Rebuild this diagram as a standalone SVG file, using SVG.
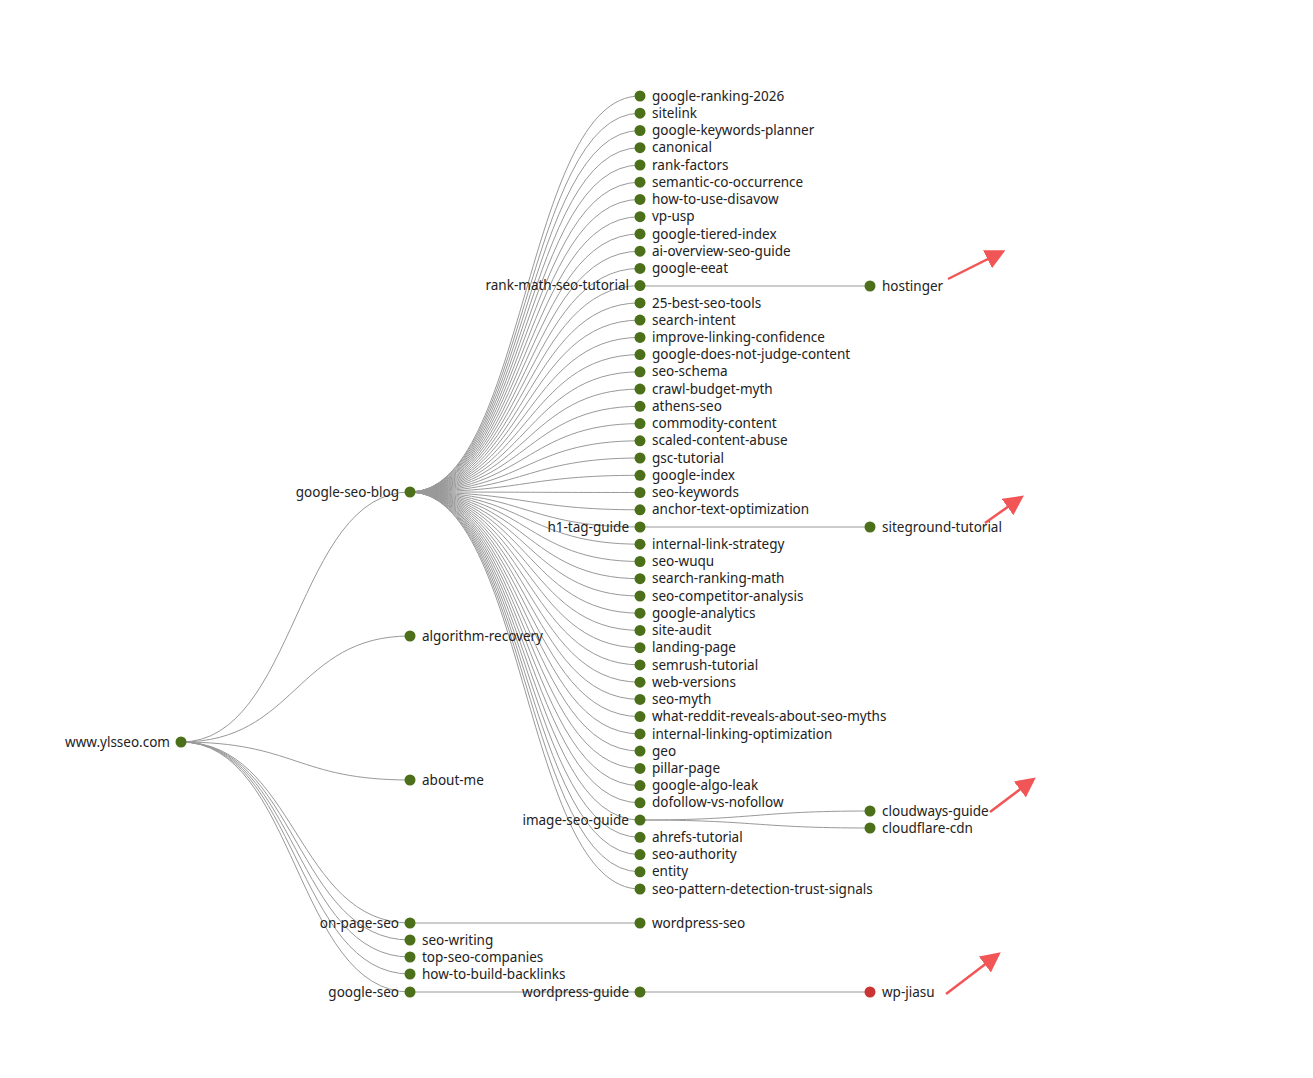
<svg xmlns="http://www.w3.org/2000/svg" width="1313" height="1078" viewBox="0 0 1313 1078">
<style>
.l{fill:none;stroke:#999;stroke-width:1}
circle{fill:#4b7019;r:5.5}
circle.r{fill:#cc3333}
text{font-family:"Noto Sans","DejaVu Sans",sans-serif;font-size:13.5px;fill:#222;dominant-baseline:middle;transform:translate(0px,1px)}
.e{text-anchor:end}
.a{stroke:#f25555;stroke-width:2.5;fill:none}
</style>
<defs><marker id="ah" viewBox="0 0 10 10" refX="7" refY="5" markerWidth="8" markerHeight="8" orient="auto"><path d="M0,0L10,5L0,10z" fill="#f25555"/></marker></defs>
<rect width="1313" height="1078" fill="#fff"/>
<g id="connectors">
<path class="l" d="M181,742C296,742 296,492 410,492"/>
<path class="l" d="M181,742C296,742 296,636 410,636"/>
<path class="l" d="M181,742C296,742 296,780 410,780"/>
<path class="l" d="M181,742C296,742 296,923 410,923"/>
<path class="l" d="M181,742C296,742 296,940 410,940"/>
<path class="l" d="M181,742C296,742 296,957 410,957"/>
<path class="l" d="M181,742C296,742 296,974 410,974"/>
<path class="l" d="M181,742C296,742 296,992 410,992"/>
<path class="l" d="M410,923L640,923"/>
<path class="l" d="M410,992L640,992"/>
<path class="l" d="M640,992L870,992"/>
<path class="l" d="M640,286L870,286"/>
<path class="l" d="M640,527L870,527"/>
<path class="l" d="M640,820C755,820 755,811 870,811"/>
<path class="l" d="M640,820C755,820 755,828 870,828"/>
<path class="l" d="M410,492C525,492 525,96 640,96"/><path class="l" d="M410,492C525,492 525,113.2 640,113.2"/><path class="l" d="M410,492C525,492 525,130.5 640,130.5"/><path class="l" d="M410,492C525,492 525,147.7 640,147.7"/><path class="l" d="M410,492C525,492 525,165 640,165"/><path class="l" d="M410,492C525,492 525,182.2 640,182.2"/><path class="l" d="M410,492C525,492 525,199.4 640,199.4"/><path class="l" d="M410,492C525,492 525,216.7 640,216.7"/><path class="l" d="M410,492C525,492 525,233.9 640,233.9"/><path class="l" d="M410,492C525,492 525,251.2 640,251.2"/><path class="l" d="M410,492C525,492 525,268.4 640,268.4"/><path class="l" d="M410,492C525,492 525,285.6 640,285.6"/><path class="l" d="M410,492C525,492 525,302.9 640,302.9"/><path class="l" d="M410,492C525,492 525,320.1 640,320.1"/><path class="l" d="M410,492C525,492 525,337.4 640,337.4"/><path class="l" d="M410,492C525,492 525,354.6 640,354.6"/><path class="l" d="M410,492C525,492 525,371.8 640,371.8"/><path class="l" d="M410,492C525,492 525,389.1 640,389.1"/><path class="l" d="M410,492C525,492 525,406.3 640,406.3"/><path class="l" d="M410,492C525,492 525,423.6 640,423.6"/><path class="l" d="M410,492C525,492 525,440.8 640,440.8"/><path class="l" d="M410,492C525,492 525,458 640,458"/><path class="l" d="M410,492C525,492 525,475.3 640,475.3"/><path class="l" d="M410,492C525,492 525,492.5 640,492.5"/><path class="l" d="M410,492C525,492 525,509.8 640,509.8"/><path class="l" d="M410,492C525,492 525,527 640,527"/><path class="l" d="M410,492C525,492 525,544.2 640,544.2"/><path class="l" d="M410,492C525,492 525,561.5 640,561.5"/><path class="l" d="M410,492C525,492 525,578.7 640,578.7"/><path class="l" d="M410,492C525,492 525,596 640,596"/><path class="l" d="M410,492C525,492 525,613.2 640,613.2"/><path class="l" d="M410,492C525,492 525,630.4 640,630.4"/><path class="l" d="M410,492C525,492 525,647.7 640,647.7"/><path class="l" d="M410,492C525,492 525,664.9 640,664.9"/><path class="l" d="M410,492C525,492 525,682.2 640,682.2"/><path class="l" d="M410,492C525,492 525,699.4 640,699.4"/><path class="l" d="M410,492C525,492 525,716.6 640,716.6"/><path class="l" d="M410,492C525,492 525,733.9 640,733.9"/><path class="l" d="M410,492C525,492 525,751.1 640,751.1"/><path class="l" d="M410,492C525,492 525,768.4 640,768.4"/><path class="l" d="M410,492C525,492 525,785.6 640,785.6"/><path class="l" d="M410,492C525,492 525,802.8 640,802.8"/><path class="l" d="M410,492C525,492 525,820.1 640,820.1"/><path class="l" d="M410,492C525,492 525,837.3 640,837.3"/><path class="l" d="M410,492C525,492 525,854.6 640,854.6"/><path class="l" d="M410,492C525,492 525,871.8 640,871.8"/><path class="l" d="M410,492C525,492 525,889 640,889"/>
</g>
<g id="root"><circle cx="181" cy="742"/><text class="e" x="170" y="742">www.ylsseo.com</text></g>
<g id="google-seo-blog"><circle cx="410" cy="492"/><text class="e" x="399" y="492">google-seo-blog</text></g>
<g id="algorithm-recovery"><circle cx="410" cy="636"/><text x="422" y="636">algorithm-recovery</text></g>
<g id="about-me"><circle cx="410" cy="780"/><text x="422" y="780">about-me</text></g>
<g id="on-page-seo"><circle cx="410" cy="923"/><text class="e" x="399" y="923">on-page-seo</text></g>
<g id="seo-writing"><circle cx="410" cy="940"/><text x="422" y="940">seo-writing</text></g>
<g id="top-seo-companies"><circle cx="410" cy="957"/><text x="422" y="957">top-seo-companies</text></g>
<g id="how-to-build-backlinks"><circle cx="410" cy="974"/><text x="422" y="974">how-to-build-backlinks</text></g>
<g id="google-seo"><circle cx="410" cy="992"/><text class="e" x="399" y="992">google-seo</text></g>
<g id="blog-children">
<g id="n1"><circle cx="640" cy="96"/><text x="652" y="96">google-ranking-2026</text></g>
<g id="n2"><circle cx="640" cy="113.2"/><text x="652" y="113.2">sitelink</text></g>
<g id="n3"><circle cx="640" cy="130.5"/><text x="652" y="130.5">google-keywords-planner</text></g>
<g id="n4"><circle cx="640" cy="147.7"/><text x="652" y="147.7">canonical</text></g>
<g id="n5"><circle cx="640" cy="165"/><text x="652" y="165">rank-factors</text></g>
<g id="n6"><circle cx="640" cy="182.2"/><text x="652" y="182.2">semantic-co-occurrence</text></g>
<g id="n7"><circle cx="640" cy="199.4"/><text x="652" y="199.4">how-to-use-disavow</text></g>
<g id="n8"><circle cx="640" cy="216.7"/><text x="652" y="216.7">vp-usp</text></g>
<g id="n9"><circle cx="640" cy="233.9"/><text x="652" y="233.9">google-tiered-index</text></g>
<g id="n10"><circle cx="640" cy="251.2"/><text x="652" y="251.2">ai-overview-seo-guide</text></g>
<g id="n11"><circle cx="640" cy="268.4"/><text x="652" y="268.4">google-eeat</text></g>
<g id="n12"><circle cx="640" cy="285.6"/><text class="e" x="629" y="285.6">rank-math-seo-tutorial</text></g>
<g id="n13"><circle cx="640" cy="302.9"/><text x="652" y="302.9">25-best-seo-tools</text></g>
<g id="n14"><circle cx="640" cy="320.1"/><text x="652" y="320.1">search-intent</text></g>
<g id="n15"><circle cx="640" cy="337.4"/><text x="652" y="337.4">improve-linking-confidence</text></g>
<g id="n16"><circle cx="640" cy="354.6"/><text x="652" y="354.6">google-does-not-judge-content</text></g>
<g id="n17"><circle cx="640" cy="371.8"/><text x="652" y="371.8">seo-schema</text></g>
<g id="n18"><circle cx="640" cy="389.1"/><text x="652" y="389.1">crawl-budget-myth</text></g>
<g id="n19"><circle cx="640" cy="406.3"/><text x="652" y="406.3">athens-seo</text></g>
<g id="n20"><circle cx="640" cy="423.6"/><text x="652" y="423.6">commodity-content</text></g>
<g id="n21"><circle cx="640" cy="440.8"/><text x="652" y="440.8">scaled-content-abuse</text></g>
<g id="n22"><circle cx="640" cy="458"/><text x="652" y="458">gsc-tutorial</text></g>
<g id="n23"><circle cx="640" cy="475.3"/><text x="652" y="475.3">google-index</text></g>
<g id="n24"><circle cx="640" cy="492.5"/><text x="652" y="492.5">seo-keywords</text></g>
<g id="n25"><circle cx="640" cy="509.8"/><text x="652" y="509.8">anchor-text-optimization</text></g>
<g id="n26"><circle cx="640" cy="527"/><text class="e" x="629" y="527">h1-tag-guide</text></g>
<g id="n27"><circle cx="640" cy="544.2"/><text x="652" y="544.2">internal-link-strategy</text></g>
<g id="n28"><circle cx="640" cy="561.5"/><text x="652" y="561.5">seo-wuqu</text></g>
<g id="n29"><circle cx="640" cy="578.7"/><text x="652" y="578.7">search-ranking-math</text></g>
<g id="n30"><circle cx="640" cy="596"/><text x="652" y="596">seo-competitor-analysis</text></g>
<g id="n31"><circle cx="640" cy="613.2"/><text x="652" y="613.2">google-analytics</text></g>
<g id="n32"><circle cx="640" cy="630.4"/><text x="652" y="630.4">site-audit</text></g>
<g id="n33"><circle cx="640" cy="647.7"/><text x="652" y="647.7">landing-page</text></g>
<g id="n34"><circle cx="640" cy="664.9"/><text x="652" y="664.9">semrush-tutorial</text></g>
<g id="n35"><circle cx="640" cy="682.2"/><text x="652" y="682.2">web-versions</text></g>
<g id="n36"><circle cx="640" cy="699.4"/><text x="652" y="699.4">seo-myth</text></g>
<g id="n37"><circle cx="640" cy="716.6"/><text x="652" y="716.6">what-reddit-reveals-about-seo-myths</text></g>
<g id="n38"><circle cx="640" cy="733.9"/><text x="652" y="733.9">internal-linking-optimization</text></g>
<g id="n39"><circle cx="640" cy="751.1"/><text x="652" y="751.1">geo</text></g>
<g id="n40"><circle cx="640" cy="768.4"/><text x="652" y="768.4">pillar-page</text></g>
<g id="n41"><circle cx="640" cy="785.6"/><text x="652" y="785.6">google-algo-leak</text></g>
<g id="n42"><circle cx="640" cy="802.8"/><text x="652" y="802.8">dofollow-vs-nofollow</text></g>
<g id="n43"><circle cx="640" cy="820.1"/><text class="e" x="629" y="820.1">image-seo-guide</text></g>
<g id="n44"><circle cx="640" cy="837.3"/><text x="652" y="837.3">ahrefs-tutorial</text></g>
<g id="n45"><circle cx="640" cy="854.6"/><text x="652" y="854.6">seo-authority</text></g>
<g id="n46"><circle cx="640" cy="871.8"/><text x="652" y="871.8">entity</text></g>
<g id="n47"><circle cx="640" cy="889"/><text x="652" y="889">seo-pattern-detection-trust-signals</text></g>
</g>
<g id="wordpress-seo"><circle cx="640" cy="923"/><text x="652" y="923">wordpress-seo</text></g>
<g id="wordpress-guide"><circle cx="640" cy="992"/><text class="e" x="629" y="992">wordpress-guide</text></g>
<g id="hostinger"><circle cx="870" cy="286"/><text x="882" y="286">hostinger</text></g>
<g id="siteground-tutorial"><circle cx="870" cy="527"/><text x="882" y="527">siteground-tutorial</text></g>
<g id="cloudways-guide"><circle cx="870" cy="811"/><text x="882" y="811">cloudways-guide</text></g>
<g id="cloudflare-cdn"><circle cx="870" cy="828"/><text x="882" y="828">cloudflare-cdn</text></g>
<g id="wp-jiasu"><circle class="r" cx="870" cy="992"/><text x="882" y="992">wp-jiasu</text></g>
<g id="arrows">
<path class="a" marker-end="url(#ah)" d="M948,279L1000,253"/>
<path class="a" marker-end="url(#ah)" d="M985,523L1019,499"/>
<path class="a" marker-end="url(#ah)" d="M990,812L1031,781"/>
<path class="a" marker-end="url(#ah)" d="M946,994L996,956"/>
</g>
</svg>
